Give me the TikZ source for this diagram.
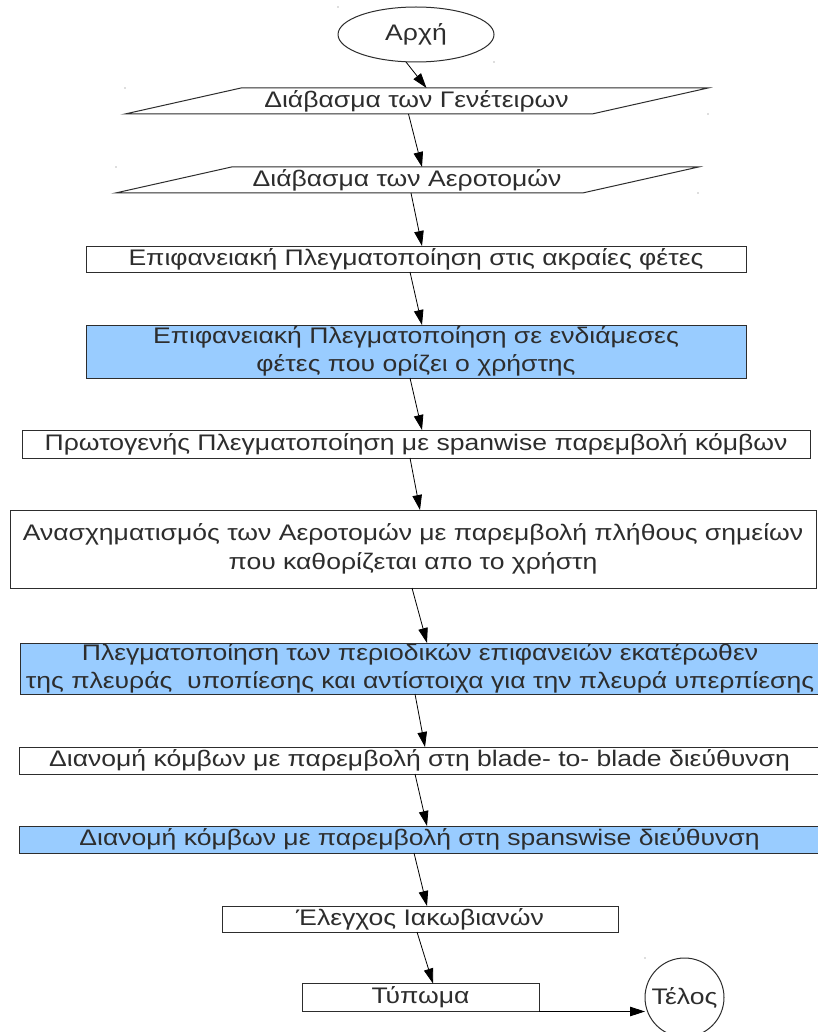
\documentclass[tikz,border=0pt]{standalone}
\usepackage{fontspec}
\setmainfont[FakeStretch=1.18]{Liberation Sans}
\usetikzlibrary{arrows.meta,shapes.geometric}
\definecolor{stepblue}{RGB}{153,204,255}
\definecolor{inkgray}{RGB}{45,45,45}
\begin{document}
\begin{tikzpicture}[x=1pt,y=-1pt,
  every node/.style={font=\fontsize{22.5}{28.5}\selectfont, text=inkgray, inner sep=0pt, outer sep=0pt},
  proc/.style={draw=inkgray, line width=1pt, fill=white, align=center},
  hi/.style={proc, fill=stepblue},
  io/.style={draw=none, minimum height=26pt},
  flow/.style={draw=black, line width=0.8pt, -{Triangle[length=15pt,width=9.5pt]}},
  speck/.style={fill=black!55}
]
\useasboundingbox (0,0) rectangle (818,1032);
\fill[white] (0,0) rectangle (818,1032);

% start / end terminals
\node[ellipse, draw=inkgray, line width=1pt, minimum width=156pt, minimum height=55pt] (start) at (416,34.5) {Αρχή};
\node[circle, draw=inkgray, line width=1pt, minimum size=79pt] (tel) at (684.5,997.5) {Τέλος};

% input parallelograms (text nodes, outlines drawn below)
\node[io, minimum width=467pt] (p1) at (416.5,101) {Διάβασμα των Γενέτειρων};
\node[io, minimum width=467pt] (p2) at (407,180) {Διάβασμα των Αεροτομών};
\foreach \p in {p1,p2}
  \draw[inkgray, line width=1pt]
    ([xshift=58pt]\p.north west) -- ([xshift=58pt]\p.north east) --
    ([xshift=-58pt]\p.south east) -- ([xshift=-58pt]\p.south west) -- cycle;

% process steps
\node[proc, minimum width=660pt, minimum height=26pt] (b3) at (416,259)
  {Επιφανειακή Πλεγματοποίηση στις ακραίες φέτες};
\node[hi, minimum width=660pt, minimum height=53pt] (b4) at (416,351.5)
  {Επιφανειακή Πλεγματοποίηση σε ενδιάμεσες\\φέτες που ορίζει ο χρήστης};
\node[proc, minimum width=788pt, minimum height=28pt] (b5) at (416,444)
  {Πρωτογενής Πλεγματοποίηση με spanwise παρεμβολή κόμβων};
\node[proc, minimum width=806pt, minimum height=78pt] (b6) at (413,549)
  {Ανασχηματισμός των Αεροτομών με παρεμβολή πλήθους σημείων\\που καθορίζεται απο το χρήστη};
\node[hi, minimum width=800pt, minimum height=51pt] (b7) at (420,668.5)
  {Πλεγματοποίηση των περιοδικών επιφανειών εκατέρωθεν\\της πλευράς \ υποπίεσης και αντίστοιχα για την πλευρά υπερπίεσης};
\node[proc, minimum width=801pt, minimum height=27pt] (b8) at (419.5,760.5)
  {Διανομή κόμβων με παρεμβολή στη blade- to- blade διεύθυνση};
\node[hi, minimum width=801pt, minimum height=27pt] (b9) at (419.5,839.5)
  {Διανομή κόμβων με παρεμβολή στη spanswise διεύθυνση};
\node[proc, minimum width=396pt, minimum height=26pt] (b10) at (420,919)
  {Έλεγχος Ιακωβιανών};
\node[proc, minimum width=237pt, minimum height=28pt] (b11) at (420.5,997.5)
  {Τύπωμα};

% connectors
\draw[flow] ([xshift=-10pt]start.south) -- ([xshift=10pt]p1.north);
\draw[flow] ([xshift=-8pt]p1.south) -- ([xshift=15pt]p2.north);
\draw[flow] ([xshift=4pt]p2.south) -- ([xshift=6pt]b3.north);
\draw[flow] ([xshift=-6pt]b3.south) -- ([xshift=6pt]b4.north);
\draw[flow] ([xshift=-6pt]b4.south) -- ([xshift=6pt]b5.north);
\draw[flow] ([xshift=-6pt]b5.south) -- ([xshift=7pt]b6.north);
\draw[flow] ([xshift=-1pt]b6.south) -- ([xshift=7pt]b7.north);
\draw[flow] ([xshift=-5pt]b7.south) -- ([xshift=5.5pt]b8.north);
\draw[flow] ([xshift=-4.5pt]b8.south) -- ([xshift=7.5pt]b9.north);
\draw[flow] ([xshift=-5.5pt]b9.south) -- ([xshift=7pt]b10.north);
\draw[flow] ([xshift=-3pt]b10.south) -- ([xshift=12.5pt]b11.north);
\draw[flow] (b11.south east) -- (b11.south east -| tel.west);

% selection handle specks at shape corners
\foreach \x/\y in {338/7, 494/62, 125/88, 708/114, 116/167, 698/193, 645/958}
  \fill[speck] (\x,\y) circle (0.7pt);
\end{tikzpicture}
\end{document}
